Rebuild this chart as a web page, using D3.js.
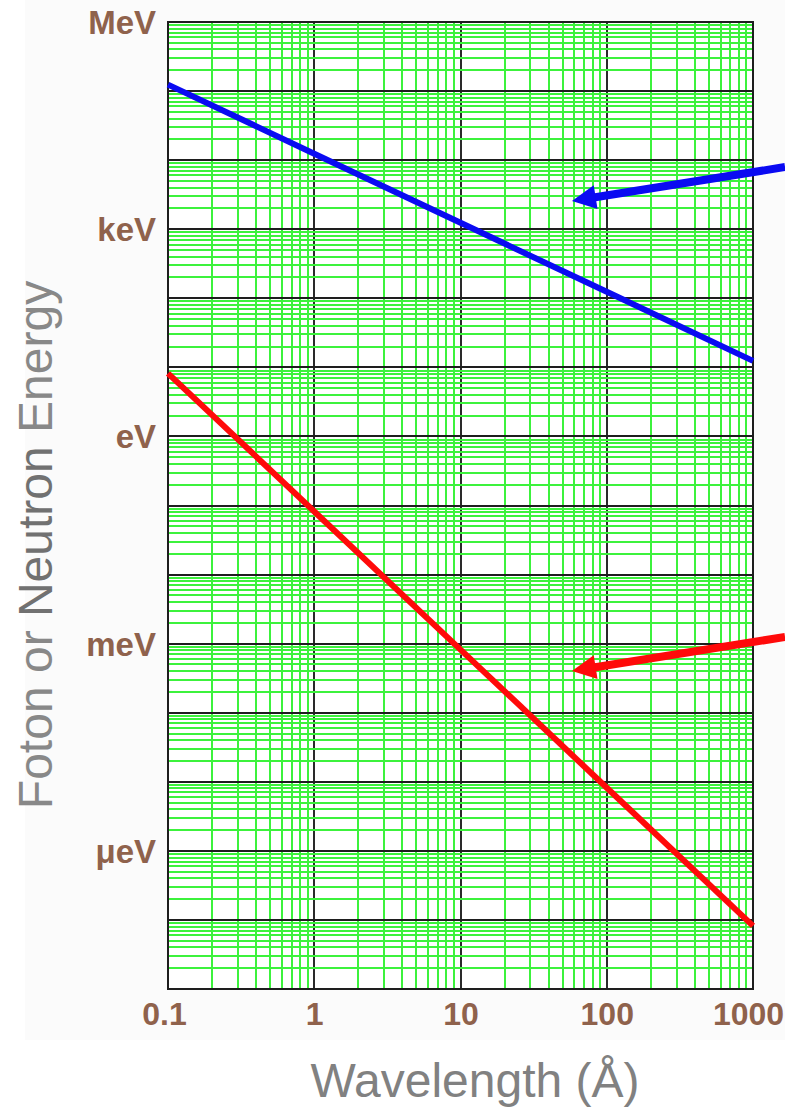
<!DOCTYPE html>
<html>
<head>
<meta charset="utf-8">
<script src="https://cdn.jsdelivr.net/npm/d3@7"></script>
<style>
  html, body { margin: 0; padding: 0; background: #ffffff; }
  svg { display: block; font-family: "Liberation Sans", Arial, sans-serif; }
</style>
</head>
<body>
<svg id="chart" width="785" height="1109"></svg>
<script>
// Wavelength in Ångström and the matching energies in eV
const wavelengths = [0.1, 1, 10, 100, 1000];
const photonEnergy = [1.24e5, 1.24e4, 1240, 124, 12.4];
const neutronEnergy = [8.2, 0.082, 8.2e-4, 8.2e-6, 8.2e-8];

// Axis ticks and labels
const wavelengthTicks = [0.1, 1, 10, 100, 1000];
const wavelengthLabels = ["0.1", "1", "10", "100", "1000"];
const energyTicks = [1e6, 1e3, 1, 1e-3, 1e-6];
const energyLabels = ["MeV", "keV", "eV", "meV", "\u03bceV"];

// Pointer arrows, given as [wavelength, energy] of tail and tip
const arrowDefs = [
  { from: [1656, 7940], to: [57.8, 2570], color: "#0a0af2" },
  { from: [1656, 1.25e-3], to: [57.8, 4.02e-4], color: "#ff0a0a" }
];

const svg = d3.select("#chart");
const plotLeft = 168, plotRight = 753, plotTop = 22, plotBottom = 989;

const x = d3.scaleLog().domain([0.1, 1000]).range([plotLeft, plotRight]);
const y = d3.scaleLog().domain([1e-8, 1e6]).range([plotBottom, plotTop]);
const snap = v => Math.round(v);

// faint page backdrop
svg.append("rect").attr("x", 25).attr("y", 0).attr("width", 760).attr("height", 1040)
  .attr("fill", "#fbfbfb");

// plot area
svg.append("rect").attr("x", plotLeft).attr("y", plotTop)
  .attr("width", plotRight - plotLeft).attr("height", plotBottom - plotTop).attr("fill", "#ffffff");

// grid values
const xMinor = [], xMajor = [];
for (let e = -1; e < 3; e++) {
  for (let m = 2; m <= 9; m++) xMinor.push(m * Math.pow(10, e));
  if (e > -1) xMajor.push(Math.pow(10, e));
}
xMajor.push(100);
const yMinor = [], yMajor = [];
for (let e = -8; e < 6; e++) {
  for (let m = 2; m <= 9; m++) yMinor.push(m * Math.pow(10, e));
  if (e > -8) yMajor.push(Math.pow(10, e));
}

const grid = svg.append("g").attr("shape-rendering", "crispEdges");
const green = "#3cf23c";
grid.selectAll(".vmin").data(xMinor).join("line")
  .attr("x1", d => snap(x(d))).attr("x2", d => snap(x(d))).attr("y1", plotTop).attr("y2", plotBottom)
  .attr("stroke", green).attr("stroke-width", 2);
grid.selectAll(".vmaj").data(xMajor).join("line")
  .attr("x1", d => snap(x(d))).attr("x2", d => snap(x(d))).attr("y1", plotTop).attr("y2", plotBottom)
  .attr("stroke", "#2a2a2a").attr("stroke-width", 2);
grid.selectAll(".hmin").data(yMinor).join("line")
  .attr("y1", d => snap(y(d))).attr("y2", d => snap(y(d))).attr("x1", plotLeft).attr("x2", plotRight)
  .attr("stroke", green).attr("stroke-width", 2);
grid.selectAll(".hmaj").data(yMajor).join("line")
  .attr("y1", d => snap(y(d))).attr("y2", d => snap(y(d))).attr("x1", plotLeft).attr("x2", plotRight)
  .attr("stroke", "#1e1e1e").attr("stroke-width", 2);

// frame
svg.append("rect").attr("x", plotLeft).attr("y", plotTop)
  .attr("width", plotRight - plotLeft).attr("height", plotBottom - plotTop)
  .attr("fill", "none").attr("stroke", "#1e1e1e").attr("stroke-width", 2)
  .attr("shape-rendering", "crispEdges");

// energy curves
const line = d3.line().x(d => x(d[0])).y(d => y(d[1]));
svg.append("path").datum(d3.zip(wavelengths, photonEnergy))
  .attr("d", line).attr("fill", "none").attr("stroke", "#0a0af2").attr("stroke-width", 6);
svg.append("path").datum(d3.zip(wavelengths, neutronEnergy))
  .attr("d", line).attr("fill", "none").attr("stroke", "#ff0a0a").attr("stroke-width", 6);

// pointer arrows
arrowDefs.forEach(a => {
  const x0 = x(a.from[0]), y0 = y(a.from[1]);
  const x1 = x(a.to[0]), y1 = y(a.to[1]);
  const dx = x1 - x0, dy = y1 - y0, len = Math.hypot(dx, dy);
  const ux = dx / len, uy = dy / len, nx = -uy, ny = ux;
  const headLen = 24, headHalf = 12;
  const bx = x1 - ux * headLen, by = y1 - uy * headLen;
  svg.append("line").attr("x1", x0).attr("y1", y0)
    .attr("x2", bx + ux * 2).attr("y2", by + uy * 2)
    .attr("stroke", a.color).attr("stroke-width", 8);
  svg.append("polygon")
    .attr("points", [[x1, y1], [bx + nx * headHalf, by + ny * headHalf], [bx - nx * headHalf, by - ny * headHalf]].map(p => p.join(",")).join(" "))
    .attr("fill", a.color);
});

// axis labels
const brown = "#8f624c";
const xAxis = d3.axisBottom(x).tickValues(wavelengthTicks)
  .tickFormat((d, i) => wavelengthLabels[i]).tickSize(0).tickPadding(0);
const gx = svg.append("g").attr("transform", `translate(0,${plotBottom})`).call(xAxis);
gx.select(".domain").remove();
gx.selectAll("text").attr("fill", brown).attr("font-size", 32).attr("font-weight", "bold")
  .attr("font-family", "'Liberation Sans', Arial, sans-serif")
  .attr("dy", null).attr("y", 36)
  .attr("dx", (d, i) => i === wavelengthTicks.length - 1 ? -5 : (i === 0 ? -4 : 0));

const yAxis = d3.axisLeft(y).tickValues(energyTicks)
  .tickFormat((d, i) => energyLabels[i]).tickSize(0).tickPadding(0);
const gy = svg.append("g").attr("transform", `translate(${plotLeft - 12},0)`).call(yAxis);
gy.select(".domain").remove();
gy.selectAll("text").attr("fill", brown).attr("font-size", 33).attr("font-weight", "bold")
  .attr("font-family", "'Liberation Sans', Arial, sans-serif")
  .attr("dy", "0.35em");

// axis titles
svg.append("text").attr("x", 475).attr("y", 1097).attr("text-anchor", "middle")
  .attr("font-size", 48).attr("fill", "#818181").text("Wavelength (\u00c5)");

const yt = svg.append("text").attr("transform", "translate(52,545) rotate(-90)")
  .attr("text-anchor", "middle").attr("font-size", 48).attr("fill", "#888888");
yt.append("tspan").text("Foton or ");
yt.append("tspan").attr("fill", "#717171").text("Neutron");
yt.append("tspan").text(" Energy");
</script>
</body>
</html>
